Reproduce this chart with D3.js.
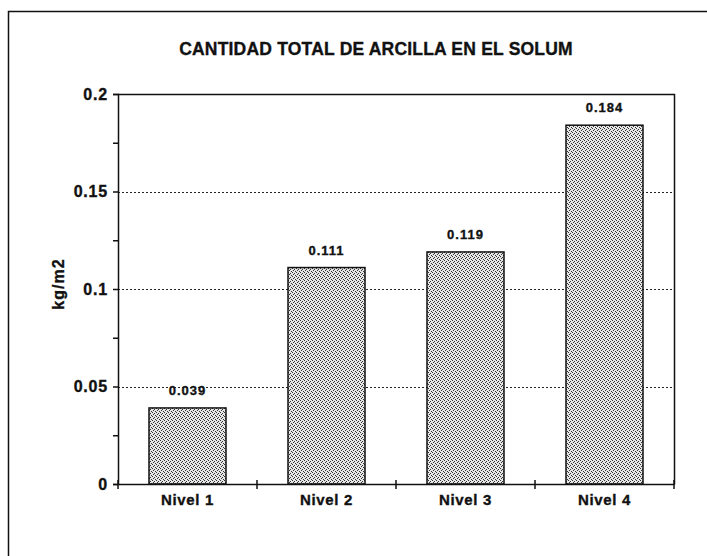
<!DOCTYPE html>
<html lang="es">
<head>
<meta charset="utf-8">
<title>Cantidad total de arcilla en el solum</title>
<script src="https://cdn.jsdelivr.net/npm/d3@7"></script>
<style>
  body { margin: 0; background: #fff; }
  svg { display: block; }
  text { font-family: Arial, "Liberation Sans", sans-serif; font-weight: bold; fill: #111; stroke: #111; stroke-width: 0.35px; }
</style>
</head>
<body>
<svg id="chart" width="707" height="556"></svg>
<script>
// data
var niveles = ["Nivel 1", "Nivel 2", "Nivel 3", "Nivel 4"];
var arcilla = [0.039, 0.111, 0.119, 0.184];
var yTicks = [0, 0.05, 0.1, 0.15, 0.2];
var yTickLabels = ["0", "0.05", "0.1", "0.15", "0.2"];

var svg = d3.select("#chart");
var margin = {left: 118, top: 94, right: 33, bottom: 72};
var W = 707, H = 556;

// outer frame (top and left only, as in the scan)
svg.append("path")
  .attr("d", "M8.5,556 V11.5 H707")
  .attr("fill", "none").attr("stroke", "#111").attr("stroke-width", 1.5);

// stipple pattern for the bars
var defs = svg.append("defs");
var pat = defs.append("pattern")
  .attr("id", "stip").attr("patternUnits", "userSpaceOnUse")
  .attr("width", 4).attr("height", 4);
pat.append("rect").attr("width", 4).attr("height", 4).attr("fill", "#e6e6e6");
[[0,0],[2,1],[1,2],[3,3]].forEach(function (p) {
  pat.append("rect").attr("x", p[0]).attr("y", p[1]).attr("width", 1).attr("height", 1).attr("fill", "#333");
});

var x = d3.scaleBand().domain(niveles)
  .range([margin.left, W - margin.right]).paddingInner(0.446).paddingOuter(0.223);
var y = d3.scaleLinear().domain([0, 0.2]).range([H - margin.bottom, margin.top]);

// dotted gridlines
svg.append("g").selectAll("line")
  .data(yTicks.filter(function (d) { return d > 0 && d < 0.2; }))
  .join("line")
  .attr("x1", margin.left).attr("x2", W - margin.right)
  .attr("y1", function (d) { return Math.round(y(d)) + 0.5; })
  .attr("y2", function (d) { return Math.round(y(d)) + 0.5; })
  .attr("stroke", "#222").attr("stroke-width", 1).attr("stroke-dasharray", "2,2");

// plot frame top and right
svg.append("path")
  .attr("d", "M" + margin.left + "," + (y(0.2) + 0.5) + " H" + (W - margin.right + 0.5) + " V" + (y(0) + 0.5))
  .attr("fill", "none").attr("stroke", "#111").attr("stroke-width", 1.5);

// bars
svg.append("g").selectAll("rect")
  .data(arcilla)
  .join("rect")
  .attr("x", function (d, i) { return x(niveles[i]); })
  .attr("width", x.bandwidth())
  .attr("y", function (d) { return y(d); })
  .attr("height", function (d) { return y(0) - y(d); })
  .attr("fill", "url(#stip)").attr("stroke", "#111").attr("stroke-width", 1.5);

// value labels
svg.append("g").selectAll("text")
  .data(arcilla)
  .join("text")
  .attr("x", function (d, i) { return x(niveles[i]) + x.bandwidth() / 2; })
  .attr("y", function (d) { return y(d) - 13; })
  .attr("text-anchor", "middle").attr("font-size", 13).attr("letter-spacing", 1)
  .text(function (d) { return d3.format(".3f")(d); });

// y axis with minor ticks
var yAxis = d3.axisLeft(y).tickValues(d3.range(0, 0.2001, 0.025))
  .tickSize(5)
  .tickFormat(function (d) {
    var k = yTicks.findIndex(function (t) { return Math.abs(t - d) < 1e-9; });
    return k >= 0 ? yTickLabels[k] : "";
  });
var gy = svg.append("g").attr("transform", "translate(" + margin.left + ",0)").call(yAxis);
gy.select(".domain").attr("stroke", "#111").attr("stroke-width", 1.5);
gy.selectAll(".tick line").attr("stroke", "#111").attr("stroke-width", 1.5);
gy.selectAll(".tick text").attr("font-size", 16).attr("letter-spacing", 0.8).attr("x", -10)
  .attr("font-family", "Arial, 'Liberation Sans', sans-serif").attr("font-weight", "bold");

// x axis: ticks at category boundaries
var xAxis = d3.axisBottom(x).tickSize(0);
var gx = svg.append("g").attr("transform", "translate(0," + y(0) + ")").call(xAxis);
gx.select(".domain").attr("stroke", "#111").attr("stroke-width", 1.5);
gx.selectAll(".tick text").attr("font-size", 15).attr("letter-spacing", 0.7).attr("dy", "1.2em")
  .attr("font-family", "Arial, 'Liberation Sans', sans-serif").attr("font-weight", "bold");
var step = x.step();
gx.selectAll("line.sep")
  .data(d3.range(niveles.length + 1))
  .join("line").attr("class", "sep")
  .attr("x1", function (i) { return margin.left + i * step; })
  .attr("x2", function (i) { return margin.left + i * step; })
  .attr("y1", -4).attr("y2", 5)
  .attr("stroke", "#111").attr("stroke-width", 1.5);

// title
svg.append("text")
  .attr("x", 376).attr("y", 55)
  .attr("text-anchor", "middle").attr("font-size", 17.5).attr("letter-spacing", 0.2)
  .text("CANTIDAD TOTAL DE ARCILLA EN EL SOLUM");

// y axis title
svg.append("text")
  .attr("transform", "translate(64," + 284 + ") rotate(-90)")
  .attr("text-anchor", "middle").attr("font-size", 16).attr("letter-spacing", 1)
  .text("kg/m2");
</script>
</body>
</html>
